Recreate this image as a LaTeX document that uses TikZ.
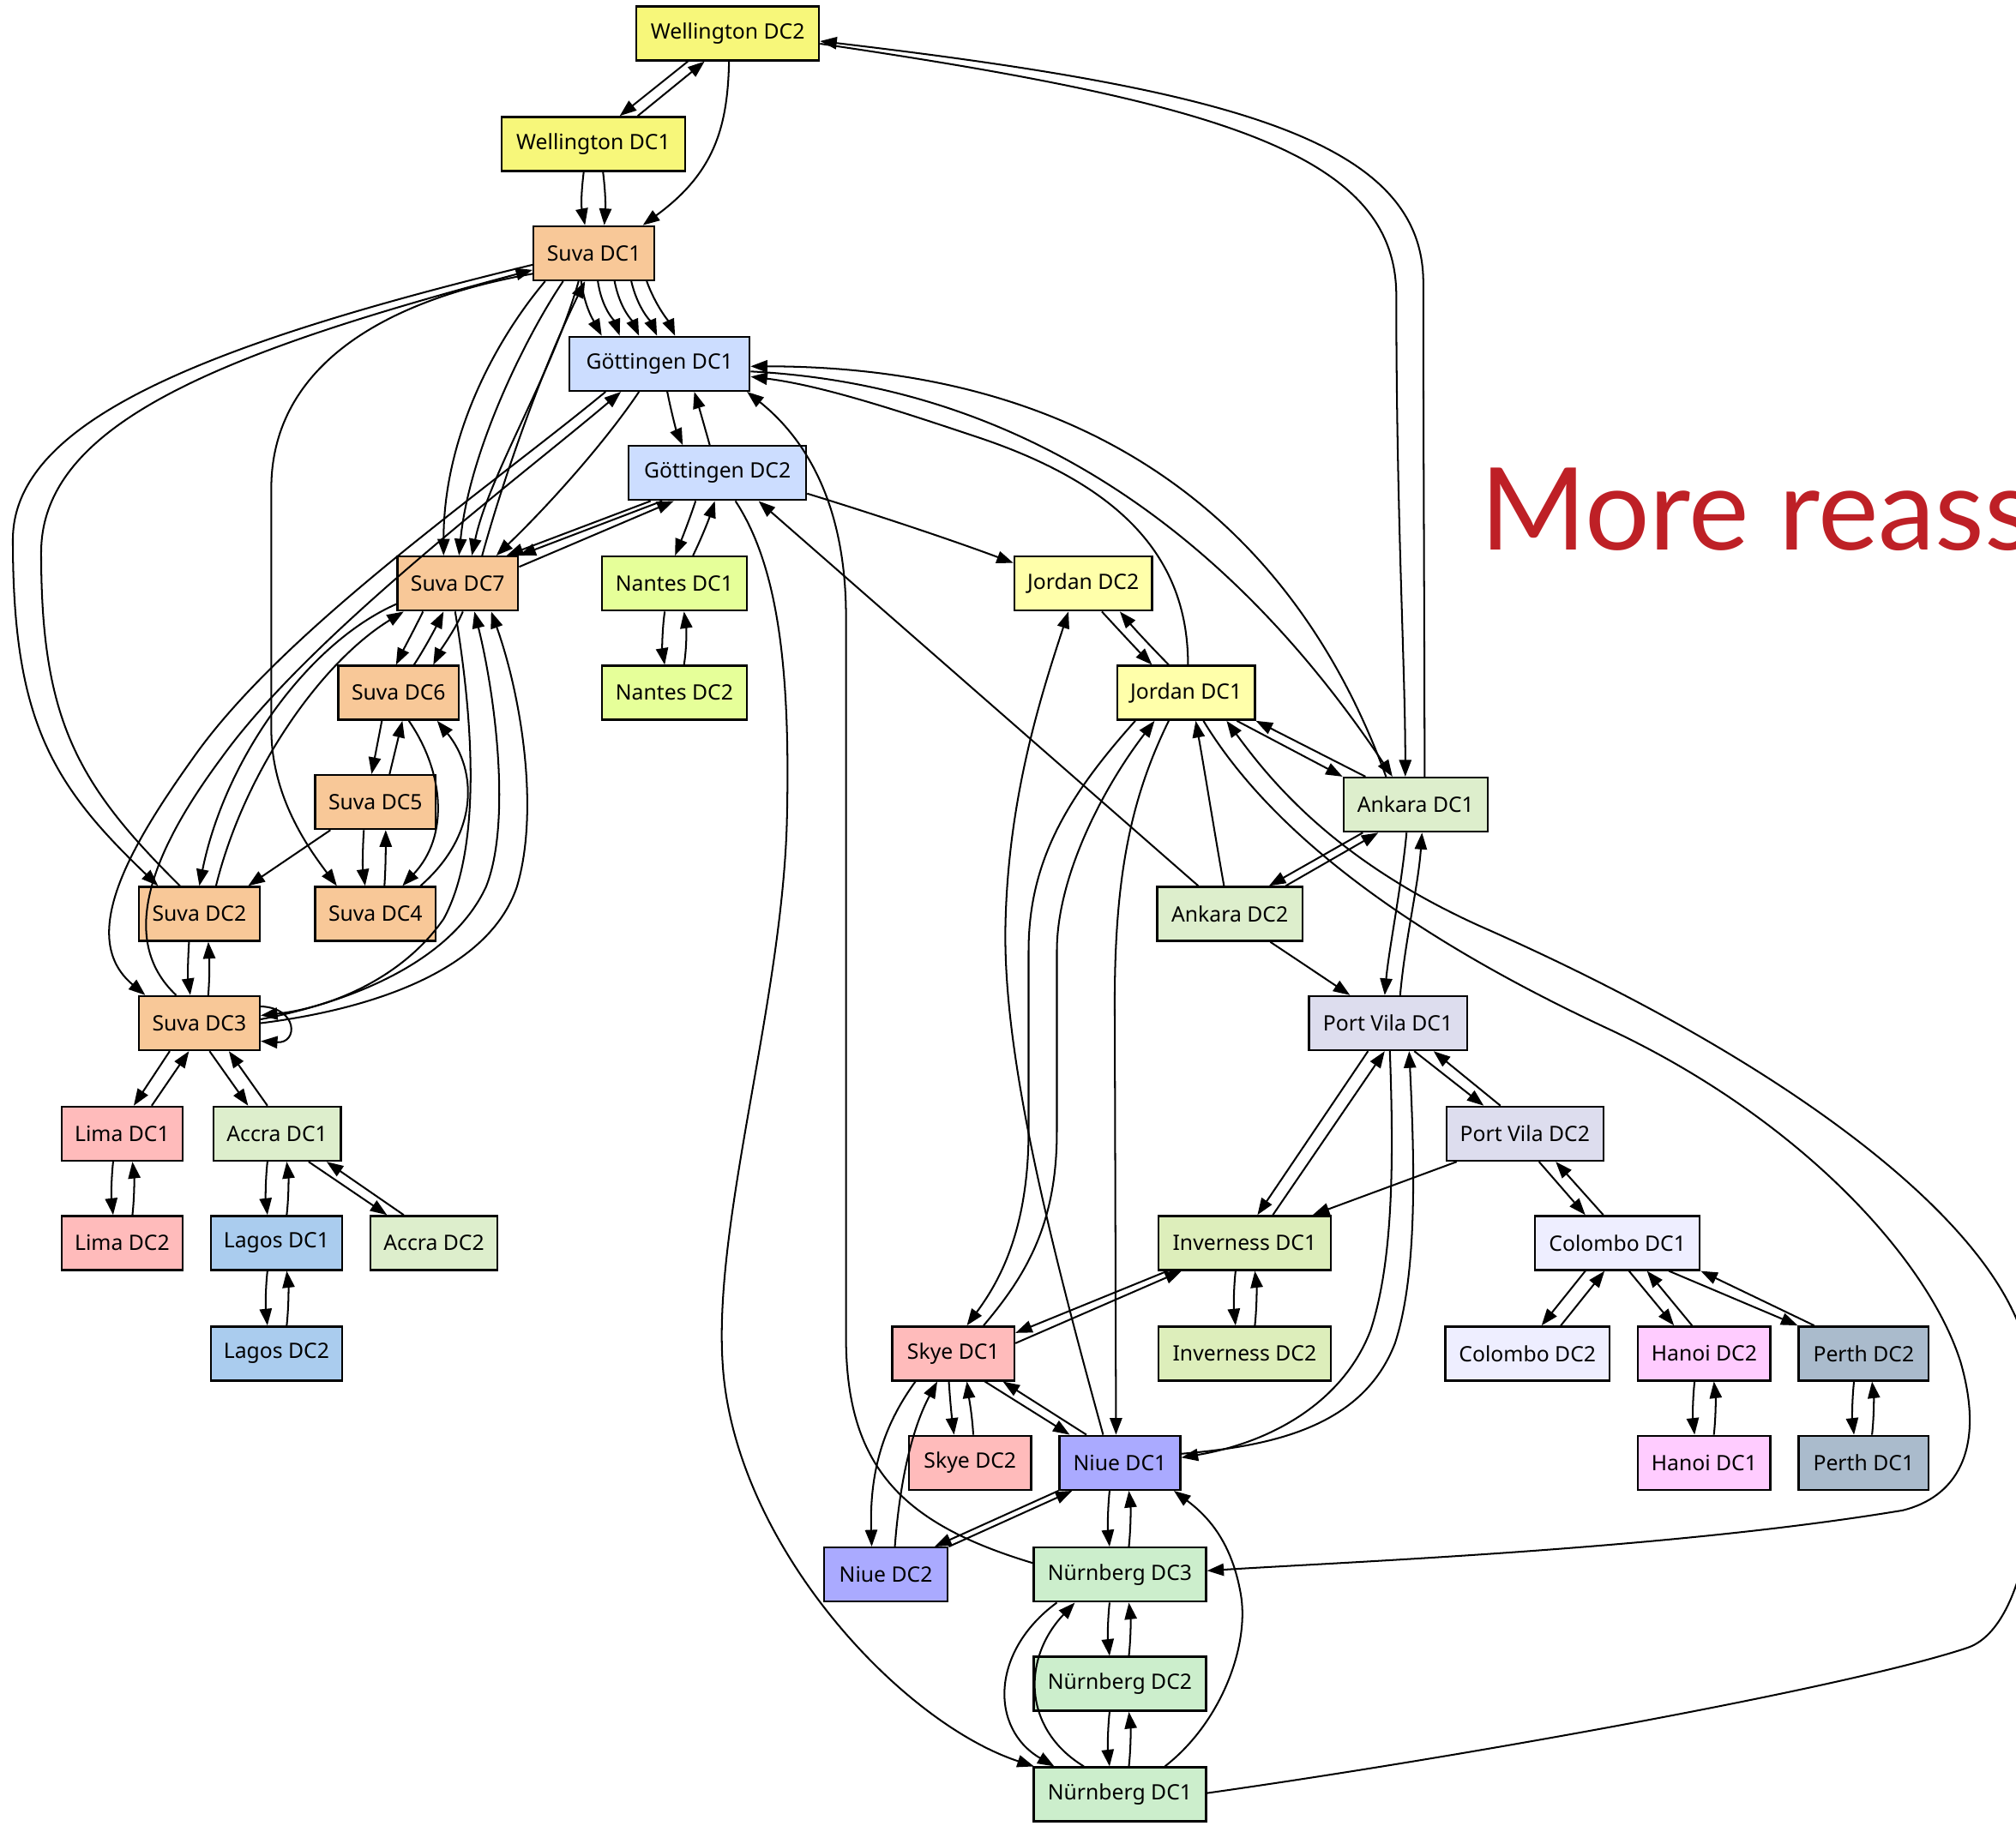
\documentclass[tikz,border=0pt]{standalone}
\usepackage{fontspec}
\setmainfont{Noto Sans}
\newfontfamily\latofont{Lato}
\usetikzlibrary{arrows.meta}

\definecolor{cWel}{RGB}{247,247,122}
\definecolor{cSuva}{RGB}{248,200,152}
\definecolor{cGoe}{RGB}{204,221,255}
\definecolor{cNan}{RGB}{230,255,153}
\definecolor{cJor}{RGB}{255,255,170}
\definecolor{cAnk}{RGB}{221,238,204}
\definecolor{cPV}{RGB}{221,221,238}
\definecolor{cLima}{RGB}{255,187,187}
\definecolor{cLag}{RGB}{170,204,238}
\definecolor{cInv}{RGB}{221,238,187}
\definecolor{cCol}{RGB}{238,238,255}
\definecolor{cHan}{RGB}{255,204,255}
\definecolor{cPer}{RGB}{170,187,204}
\definecolor{cNiue}{RGB}{170,170,255}
\definecolor{cNue}{RGB}{204,238,204}
\definecolor{cTitle}{RGB}{190,32,38}

\tikzset{
  dc/.style={draw=black, line width=1.6pt, minimum height=42pt, inner sep=0pt,
             font=\fontsize{16.5}{19}\selectfont, text=black},
  link/.style={line width=1.35pt, -{Triangle[length=13pt,width=9.5pt]}},
}

\begin{document}
\begin{tikzpicture}[x=1pt,y=-1pt]
\useasboundingbox (0,0) rectangle (1568,1420);
\clip (0,0) rectangle (1568,1420);
\fill[white] (0,0) rectangle (1568,1420);

% ---------- data centres ----------
\node[dc, fill=cWel,  minimum width=142pt] (wd2) at (566,26)     {Wellington DC2};
\node[dc, fill=cWel,  minimum width=143pt] (wd1) at (461.5,112)  {Wellington DC1};
\node[dc, fill=cSuva, minimum width=94pt]  (s1)  at (462,197)    {Suva DC1};
\node[dc, fill=cGoe,  minimum width=140pt] (g1)  at (513,283)    {Göttingen DC1};
\node[dc, fill=cGoe,  minimum width=138pt] (g2)  at (558,368)    {Göttingen DC2};
\node[dc, fill=cSuva, minimum width=94pt]  (s7)  at (356,454)    {Suva DC7};
\node[dc, fill=cNan,  minimum width=113pt] (n1)  at (524.5,454)  {Nantes DC1};
\node[dc, fill=cNan,  minimum width=113pt] (n2)  at (524.5,539)  {Nantes DC2};
\node[dc, fill=cJor,  minimum width=107pt] (j2)  at (842.5,454)  {Jordan DC2};
\node[dc, fill=cJor,  minimum width=107pt] (j1)  at (922.5,539)  {Jordan DC1};
\node[dc, fill=cSuva, minimum width=94pt]  (s6)  at (310,539)    {Suva DC6};
\node[dc, fill=cSuva, minimum width=94pt]  (s5)  at (292,624)    {Suva DC5};
\node[dc, fill=cAnk,  minimum width=112pt] (a1)  at (1101,626)   {Ankara DC1};
\node[dc, fill=cSuva, minimum width=94pt]  (s2)  at (155,711)    {Suva DC2};
\node[dc, fill=cSuva, minimum width=94pt]  (s4)  at (292,711)    {Suva DC4};
\node[dc, fill=cAnk,  minimum width=113pt] (a2)  at (956.5,711)  {Ankara DC2};
\node[dc, fill=cSuva, minimum width=94pt]  (s3)  at (155,796)    {Suva DC3};
\node[dc, fill=cPV,   minimum width=123pt] (pv1) at (1079.5,796) {Port Vila DC1};
\node[dc, fill=cLima, minimum width=94pt]  (l1)  at (95,882)     {Lima DC1};
\node[dc, fill=cAnk,  minimum width=99pt]  (ac1) at (215.5,882)  {Accra DC1};
\node[dc, fill=cPV,   minimum width=122pt] (pv2) at (1186,882)   {Port Vila DC2};
\node[dc, fill=cLima, minimum width=94pt]  (l2)  at (95,967)     {Lima DC2};
\node[dc, fill=cLag,  minimum width=102pt] (lg1) at (215,967)    {Lagos DC1};
\node[dc, fill=cAnk,  minimum width=99pt]  (ac2) at (337.5,967)  {Accra DC2};
\node[dc, fill=cInv,  minimum width=134pt] (i1)  at (968,967)    {Inverness DC1};
\node[dc, fill=cCol,  minimum width=128pt] (c1)  at (1258,967)   {Colombo DC1};
\node[dc, fill=cLag,  minimum width=102pt] (lg2) at (215,1053)   {Lagos DC2};
\node[dc, fill=cLima, minimum width=95pt]  (sk1) at (741.5,1053) {Skye DC1};
\node[dc, fill=cInv,  minimum width=134pt] (i2)  at (968,1053)   {Inverness DC2};
\node[dc, fill=cCol,  minimum width=128pt] (c2)  at (1188,1053)  {Colombo DC2};
\node[dc, fill=cHan,  minimum width=103pt] (h2)  at (1325.5,1053){Hanoi DC2};
\node[dc, fill=cPer,  minimum width=101pt] (p2)  at (1449.5,1053){Perth DC2};
\node[dc, fill=cLima, minimum width=95pt]  (sk2) at (754.5,1138) {Skye DC2};
\node[dc, fill=cNiue, minimum width=94pt]  (nu1) at (871,1138)   {Niue DC1};
\node[dc, fill=cHan,  minimum width=103pt] (h1)  at (1325.5,1138){Hanoi DC1};
\node[dc, fill=cPer,  minimum width=101pt] (p1)  at (1449.5,1138){Perth DC1};
\node[dc, fill=cNiue, minimum width=96pt]  (nu2) at (689,1225)   {Niue DC2};
\node[dc, fill=cNue,  minimum width=134pt] (nb3) at (871,1225)   {Nürnberg DC3};
\node[dc, fill=cNue,  minimum width=134pt] (nb2) at (871,1310)   {Nürnberg DC2};
\node[dc, fill=cNue,  minimum width=134pt] (nb1) at (871,1396)   {Nürnberg DC1};

% ---------- heading ----------
\node[anchor=base west, inner sep=0pt, text=cTitle,
      font=\latofont\fontsize{89}{100}\selectfont] (title) at (1151,428) {More reass};

% ---------- Wellington ----------
\draw[link] (wd2.south -| 535,0) -- (wd1.north -| 482,0);
\draw[link] (wd1.north -| 496,0) -- (wd2.south -| 548,0);
\draw[link] (wd1.south -| 454,0) .. controls (452,150) and (452,160) .. (s1.north -| 455,0);
\draw[link] (wd1.south -| 469,0) .. controls (471,150) and (471,160) .. (s1.north -| 470,0);
\draw[link] (wd2.south -| 567,0) .. controls (566,100) and (555,135) .. (s1.north -| 500,0);
\draw[link] (wd2.east |- 0,34) .. controls (950,80) and (1086,120) .. (1086,230)
            .. controls (1086,400) and (1093,520) .. (a1.north -| 1093,0);
\draw[link] (a1.north -| 1108,0) .. controls (1108,500) and (1107,350) .. (1107,220)
            .. controls (1107,110) and (960,70) .. (wd2.east |- 0,32);

% ---------- Suva DC1 fan ----------
\draw[link] (s1.south -| 424,0) .. controls (385,265) and (345,340) .. (s7.north -| 345,0);
\draw[link] (s1.south -| 438,0) .. controls (410,260) and (365,350) .. (s7.north -| 357,0);
\draw[link] (s1.south -| 450,0) .. controls (430,290) and (380,370) .. (s7.north -| 367,0);
\draw[link] (s7.north -| 375,0) .. controls (395,360) and (425,280) .. (s1.south -| 455,0);
\draw[link] (s1.south -| 452,0) .. controls (455,240) and (462,250) .. (g1.north -| 468,0);
\draw[link] (s1.south -| 465,0) .. controls (468,240) and (478,250) .. (g1.north -| 482,0);
\draw[link] (s1.south -| 478,0) .. controls (482,240) and (492,250) .. (g1.north -| 497,0);
\draw[link] (s1.south -| 491,0) .. controls (496,240) and (506,250) .. (g1.north -| 511,0);
\draw[link] (s1.south -| 503,0) .. controls (510,238) and (520,250) .. (g1.north -| 525,0);

\draw[link] (s1.west |- 0,206) .. controls (150,270) and (10,330) .. (10,420)
            .. controls (10,560) and (40,610) .. (s2.north -| 123,0);
\draw[link] (s2.north -| 140,0) .. controls (60,610) and (32,560) .. (32,430)
            .. controls (32,330) and (170,275) .. (s1.west |- 0,210);
\draw[link] (s1.west |- 0,213) .. controls (290,235) and (211,290) .. (211,380) -- (211,567)
            .. controls (211,620) and (240,660) .. (s4.north -| 262,0);

% ---------- Goettingen ----------
\draw[link] (g1.south -| 471,0) .. controls (380,380) and (220,490) .. (150,590)
            .. controls (100,660) and (60,730) .. (s3.north -| 113,0);
\draw[link] (s3.north -| 137,0) .. controls (90,730) and (120,660) .. (172,590)
            .. controls (240,495) and (400,375) .. (g1.south -| 483,0);
\draw[link] (g1.south -| 497,0) .. controls (470,345) and (425,395) .. (s7.north -| 386,0);
\draw[link] (g2.south -| 506,0) -- (s7.north -| 394,0);
\draw[link] (g2.south -| 515,0) -- (s7.north east);
\draw[link] (s7.east |- 0,441) -- (g2.south -| 524,0);
\draw[link] (g1.south -| 519,0) .. controls (522,320) and (526,335) .. (g2.north -| 531,0);
\draw[link] (g2.north -| 552,0) .. controls (548,332) and (544,318) .. (g1.south -| 540,0);
\draw[link] (g2.south -| 541,0) .. controls (536,405) and (530,420) .. (n1.north -| 525,0);
\draw[link] (n1.north -| 539,0) .. controls (545,420) and (551,405) .. (g2.south -| 556,0);
\draw[link] (n1.south -| 517,0) .. controls (515,490) and (515,505) .. (n2.north -| 517,0);
\draw[link] (n2.north -| 532,0) .. controls (534,505) and (534,490) .. (n1.south -| 532,0);
\draw[link] (g2.east |- 0,384) .. controls (680,400) and (740,420) .. (j2.west |- 0,438);
\draw[link] (a2.north -| 932,0) -- (g2.south -| 590,0);
\draw[link] (g2.south -| 572,0) .. controls (605,440) and (615,520) .. (612,640)
            .. controls (608,780) and (555,950) .. (562,1060)
            .. controls (570,1200) and (700,1340) .. ([xshift=1pt]nb1.north west);
\draw[link] (nb3.west |- 0,1216) .. controls (700,1185) and (658,1140) .. (658,1040) -- (658,480)
            .. controls (658,390) and (625,340) .. (g1.south -| 581,0);
\draw[link] (j1.north -| 924,0) .. controls (924,440) and (880,380) .. (760,340)
            .. controls (700,320) and (640,300) .. (g1.east |- 0,293);
\draw[link] (a1.north -| 1078,0) .. controls (1000,390) and (830,285) .. (g1.east |- 0,285);
\draw[link] (g1.east |- 0,289) .. controls (800,300) and (960,420) .. (a1.north -| 1083,0);

% ---------- Jordan ----------
\draw[link] (j2.south -| 857,0) .. controls (870,490) and (884,505) .. (j1.north -| 896,0);
\draw[link] (j1.north -| 909,0) .. controls (897,505) and (883,490) .. (j2.south -| 871,0);
\draw[link] (nu1.north -| 858,0) .. controls (815,960) and (780,820) .. (782,720)
            .. controls (784,620) and (810,540) .. (j2.south -| 831,0);
\draw[link] (j1.south -| 909,0) .. controls (880,620) and (867,680) .. (867,780) -- (nu1.north -| 868,0);
\draw[link] (j1.south -| 883,0) .. controls (830,620) and (800,670) .. (800,740) -- (800,880)
            .. controls (800,960) and (775,1000) .. (sk1.north -| 752,0);
\draw[link] (sk1.north -| 765,0) .. controls (800,990) and (822,950) .. (822,880) -- (822,740)
            .. controls (822,680) and (860,610) .. (j1.south -| 898,0);
\draw[link] (a2.north -| 952,0) .. controls (945,650) and (937,600) .. (j1.south -| 930,0);
\draw[link] (j1.south -| 936,0) .. controls (990,650) and (1100,730) .. (1250,800)
            .. controls (1400,870) and (1500,980) .. (1525,1060)
            .. controls (1545,1130) and (1520,1165) .. (1480,1175)
            .. controls (1300,1205) and (1050,1215) .. (nb3.east |- 0,1222);
\draw[link] (nb1.east |- 0,1395) .. controls (1150,1365) and (1440,1312) .. (1530,1282)
            .. controls (1575,1267) and (1592,1160) .. (1578,1060)
            .. controls (1565,960) and (1400,830) .. (1150,720)
            .. controls (1040,670) and (990,610) .. (j1.south -| 954,0);
\draw[link] (j1.south -| 962,0) -- (a1.north west);
\draw[link] (a1.north -| 1062,0) -- (j1.south east);

% ---------- Ankara / Port Vila ----------
\draw[link] (a1.south -| 1060,0) -- (a2.north -| 987,0);
\draw[link] (a2.north -| 1000,0) -- (a1.south -| 1072,0);
\draw[link] (a2.south -| 988,0) -- (pv1.north -| 1050,0);
\draw[link] (a1.south -| 1094,0) .. controls (1090,690) and (1080,740) .. (pv1.north -| 1077,0);
\draw[link] (pv1.north -| 1089,0) .. controls (1093,730) and (1103,690) .. (a1.south -| 1106,0);
\draw[link] (pv1.south -| 1100,0) -- (pv2.north -| 1154,0);
\draw[link] (pv2.north -| 1167,0) -- (pv1.south -| 1115,0);
\draw[link] (pv1.south -| 1064,0) -- (i1.north -| 978,0);
\draw[link] (i1.north -| 990,0) -- (pv1.south -| 1077,0);
\draw[link] (pv2.south -| 1133,0) -- (i1.north -| 1021,0);
\draw[link] (pv1.south -| 1081,0) .. controls (1084,900) and (1084,980) .. (1066,1035)
            .. controls (1045,1090) and (990,1122) .. (nu1.east |- 0,1134);
\draw[link] (nu1.east |- 0,1131) .. controls (990,1125) and (1060,1110) .. (1085,1045)
            .. controls (1103,990) and (1100,900) .. (pv1.south -| 1096,0);

% ---------- Colombo / Hanoi / Perth ----------
\draw[link] (pv2.south -| 1197,0) -- (c1.north -| 1233,0);
\draw[link] (c1.north -| 1247,0) -- (pv2.south -| 1210,0);
\draw[link] (c1.south -| 1233,0) -- (c2.north -| 1199,0);
\draw[link] (c2.north -| 1214,0) -- (c1.south -| 1248,0);
\draw[link] (c1.south -| 1267,0) -- (h2.north -| 1302,0);
\draw[link] (h2.north -| 1316,0) -- (c1.south -| 1281,0);
\draw[link] (c1.south -| 1298,0) -- (p2.north west);
\draw[link] (p2.north -| 1411,0) -- (c1.south east);
\draw[link] (h2.south -| 1318,0) .. controls (1316.5,1088) and (1316.5,1103) .. (h1.north -| 1318,0);
\draw[link] (h1.north -| 1333,0) .. controls (1334.5,1103) and (1334.5,1088) .. (h2.south -| 1333,0);
\draw[link] (p2.south -| 1442,0) .. controls (1440.5,1088) and (1440.5,1103) .. (p1.north -| 1442,0);
\draw[link] (p1.north -| 1456,0) .. controls (1457.5,1103) and (1457.5,1088) .. (p2.south -| 1456,0);

% ---------- Inverness / Skye / Niue ----------
\draw[link] (i1.south -| 961,0) .. controls (959.5,1002) and (959.5,1017) .. (i2.north -| 961,0);
\draw[link] (i2.north -| 976,0) .. controls (977.5,1017) and (977.5,1002) .. (i1.south -| 976,0);
\draw[link] (i1.south -| 908,0) -- (sk1.east |- 0,1037);
\draw[link] (sk1.east |- 0,1045) -- (i1.south -| 919,0);
\draw[link] (sk1.south -| 738,0) .. controls (739,1090) and (740,1100) .. (sk2.north -| 742,0);
\draw[link] (sk2.north -| 757,0) .. controls (756,1100) and (754,1090) .. (sk1.south -| 752,0);
\draw[link] (sk1.south -| 766,0) -- (nu1.north -| 832,0);
\draw[link] (nu1.north -| 845,0) -- (sk1.south -| 780,0);
\draw[link] (sk1.south -| 712,0) .. controls (690,1105) and (676,1140) .. (nu2.north -| 678,0);
\draw[link] (nu2.north -| 696,0) .. controls (700,1150) and (710,1110) .. (sk1.south -| 729,0);
\draw[link] (nu1.south west) -- (nu2.north -| 727,0);
\draw[link] (nu2.north -| 738,0) -- (nu1.south -| 834,0);
\draw[link] (nu1.south -| 863,0) .. controls (861.5,1174) and (861.5,1189) .. (nb3.north -| 863,0);
\draw[link] (nb3.north -| 878,0) .. controls (879.5,1189) and (879.5,1174) .. (nu1.south -| 878,0);
\draw[link] (nb1.north -| 906,0) .. controls (950,1340) and (972,1280) .. (965,1240)
            .. controls (958,1200) and (940,1180) .. (nu1.south -| 913,0);

% ---------- Nuernberg ----------
\draw[link] (nb3.south -| 863,0) .. controls (861.5,1260) and (861.5,1275) .. (nb2.north -| 863,0);
\draw[link] (nb2.north -| 878,0) .. controls (879.5,1275) and (879.5,1260) .. (nb3.south -| 878,0);
\draw[link] (nb2.south -| 863,0) .. controls (861.5,1345) and (861.5,1361) .. (nb1.north -| 863,0);
\draw[link] (nb1.north -| 878,0) .. controls (879.5,1361) and (879.5,1345) .. (nb2.south -| 878,0);
\draw[link] (nb3.south -| 822,0) .. controls (770,1285) and (770,1345) .. (nb1.north -| 820,0);
\draw[link] (nb1.north -| 843,0) .. controls (795,1345) and (795,1290) .. (nb3.south -| 836,0);

% ---------- Suva cluster ----------
\draw[link] (s7.south -| 329,0) .. controls (322,490) and (314,505) .. (s6.north -| 308,0);
\draw[link] (s6.north -| 322,0) .. controls (330,505) and (338,490) .. (s7.south -| 345,0);
\draw[link] (s7.south -| 360,0) .. controls (354,490) and (343,505) .. (s6.north -| 337,0);
\draw[link] (s6.south -| 297,0) -- (s5.north -| 289,0);
\draw[link] (s5.north -| 303,0) -- (s6.south -| 313,0);
\draw[link] (s5.south -| 283,0) .. controls (282,660) and (282,675) .. (s4.north -| 284,0);
\draw[link] (s4.north -| 299,0) .. controls (300,675) and (300,660) .. (s5.south -| 300,0);
\draw[link] (s6.south -| 318,0) .. controls (345,600) and (350,650) .. (s4.north -| 313,0);
\draw[link] (s4.north -| 327,0) .. controls (372,650) and (372,600) .. (s6.south -| 340,0);
\draw[link] (s5.south -| 257,0) -- (s2.north -| 193,0);
\draw[link] (s7.west |- 0,470) .. controls (240,500) and (175,590) .. (s2.north -| 155,0);
\draw[link] (s2.north -| 168,0) .. controls (190,600) and (250,515) .. (s7.south -| 314,0);
\draw[link] (s2.south -| 147,0) .. controls (146,750) and (146,760) .. (s3.north -| 148,0);
\draw[link] (s3.north -| 162,0) .. controls (163,760) and (163,750) .. (s2.south -| 162,0);
\draw[link] (s3.east |- 0,783) .. controls (232,784) and (232,812) .. (s3.east |- 0,810);
\draw[link] (s7.south -| 354,0) .. controls (368,560) and (375,660) .. (345,715)
            .. controls (310,765) and (250,785) .. (s3.east |- 0,790);
\draw[link] (s3.east |- 0,793) .. controls (270,780) and (350,750) .. (378,690)
            .. controls (398,640) and (385,540) .. (s7.south -| 369,0);
\draw[link] (s3.east |- 0,796) .. controls (290,785) and (380,755) .. (402,690)
            .. controls (420,630) and (405,540) .. (s7.south -| 382,0);

% ---------- Lima / Accra / Lagos ----------
\draw[link] (s3.south -| 132,0) -- (l1.north -| 104,0);
\draw[link] (l1.north -| 118,0) -- (s3.south -| 147,0);
\draw[link] (s3.south -| 163,0) -- (ac1.north -| 193,0);
\draw[link] (ac1.north -| 208,0) -- (s3.south -| 178,0);
\draw[link] (l1.south -| 88,0) .. controls (86.5,917) and (86.5,932) .. (l2.north -| 88,0);
\draw[link] (l2.north -| 103,0) .. controls (104.5,932) and (104.5,917) .. (l1.south -| 103,0);
\draw[link] (ac1.south -| 208,0) .. controls (206.5,917) and (206.5,932) .. (lg1.north -| 208,0);
\draw[link] (lg1.north -| 223,0) .. controls (224.5,932) and (224.5,917) .. (ac1.south -| 223,0);
\draw[link] (ac1.south -| 240,0) -- (ac2.north -| 301,0);
\draw[link] (ac2.north -| 314,0) -- (ac1.south -| 254,0);
\draw[link] (lg1.south -| 208,0) .. controls (206.5,1002) and (206.5,1017) .. (lg2.north -| 208,0);
\draw[link] (lg2.north -| 223,0) .. controls (224.5,1017) and (224.5,1002) .. (lg1.south -| 223,0);
\end{tikzpicture}
\end{document}
